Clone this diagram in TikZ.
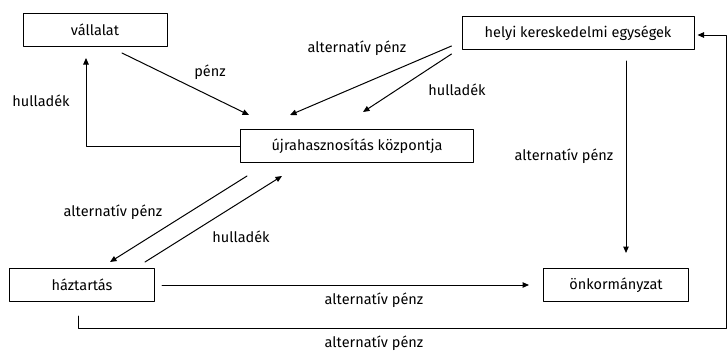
\documentclass[tikz,border=0pt]{standalone}
\usepackage{fontspec}
\setmainfont{Fira Sans}
\usetikzlibrary{arrows.meta,calc}

\tikzset{
  box/.style={draw,line width=1pt,minimum height=33pt,inner sep=0pt,font=\fontsize{14.5}{17}\selectfont},
  lbl/.style={font=\fontsize{14.5}{17}\selectfont,inner sep=0pt},
  flow/.style={line width=1pt,-{Triangle[length=6.5pt,width=5.5pt]}}
}

\begin{document}
\begin{tikzpicture}[line cap=round,line join=round,x=1pt,y=-1pt]
    \useasboundingbox (0,0) rectangle (727,351);
    % boxes
    \node[box,minimum width=144pt] (vall) at (95,30) {vállalat};
    \node[box,minimum width=232pt] (helyi) at (578,33) {helyi kereskedelmi egységek};
    \node[box,minimum width=233pt] (recy) at (357,146) {újrahasznosítás központja};
    \node[box,minimum width=145pt] (haz) at (82,285) {háztartás};
    \node[box,minimum width=145pt] (onk) at (616,285) {önkormányzat};
    \coordinate (corner) at (726,328);
    % flows
    \draw[flow] ([xshift=27pt,yshift=-6pt]vall.south) -- ([xshift=9pt,yshift=14pt]recy.north west);
    \draw[flow] (recy.west) -| ([xshift=-9pt,yshift=-11pt]vall.south);
    \draw[flow] ([xshift=-10pt,yshift=-13pt]helyi.west) -- ([xshift=-67pt,yshift=14pt]recy.north);
    \draw[flow] ([xshift=-10pt,yshift=-4pt]helyi.south west) -- ([xshift=6pt,yshift=17pt]recy.north);
    \draw[flow] ([xshift=48pt,yshift=-11pt]helyi.south) -- ([xshift=10pt,yshift=15pt]onk.north);
    \draw[flow] ([xshift=7pt,yshift=-13pt]recy.south west) -- ([xshift=28pt,yshift=6pt]haz.north);
    \draw[flow] ([xshift=-10pt,yshift=6pt]haz.north east) -- ([xshift=42pt,yshift=-13pt]recy.south west);
    \draw[flow] ([xshift=7pt]haz.east) -- ([xshift=-14pt]onk.west);
    \draw[flow] ([xshift=-4pt,yshift=-14pt]haz.south) |- (corner) |- ([xshift=3pt,yshift=-2pt]helyi.east);
    % labels
    \node[lbl] (l1) at (210,72) {pénz};
    \node[lbl] (l2) at (41,101) {hulladék};
    \node[lbl] (l3) at (357,48) {alternatív pénz};
    \node[lbl] (l4) at (457,90) {hulladék};
    \node[lbl] (l5) at (564,156) {alternatív pénz};
    \node[lbl] (l6) at (113,212) {alternatív pénz};
    \node[lbl] (l7) at (241,237) {hulladék};
    \node[lbl] (l8) at (374,300) {alternatív pénz};
    \node[lbl] (l9) at (374,343) {alternatív pénz};
\end{tikzpicture}
\end{document}
